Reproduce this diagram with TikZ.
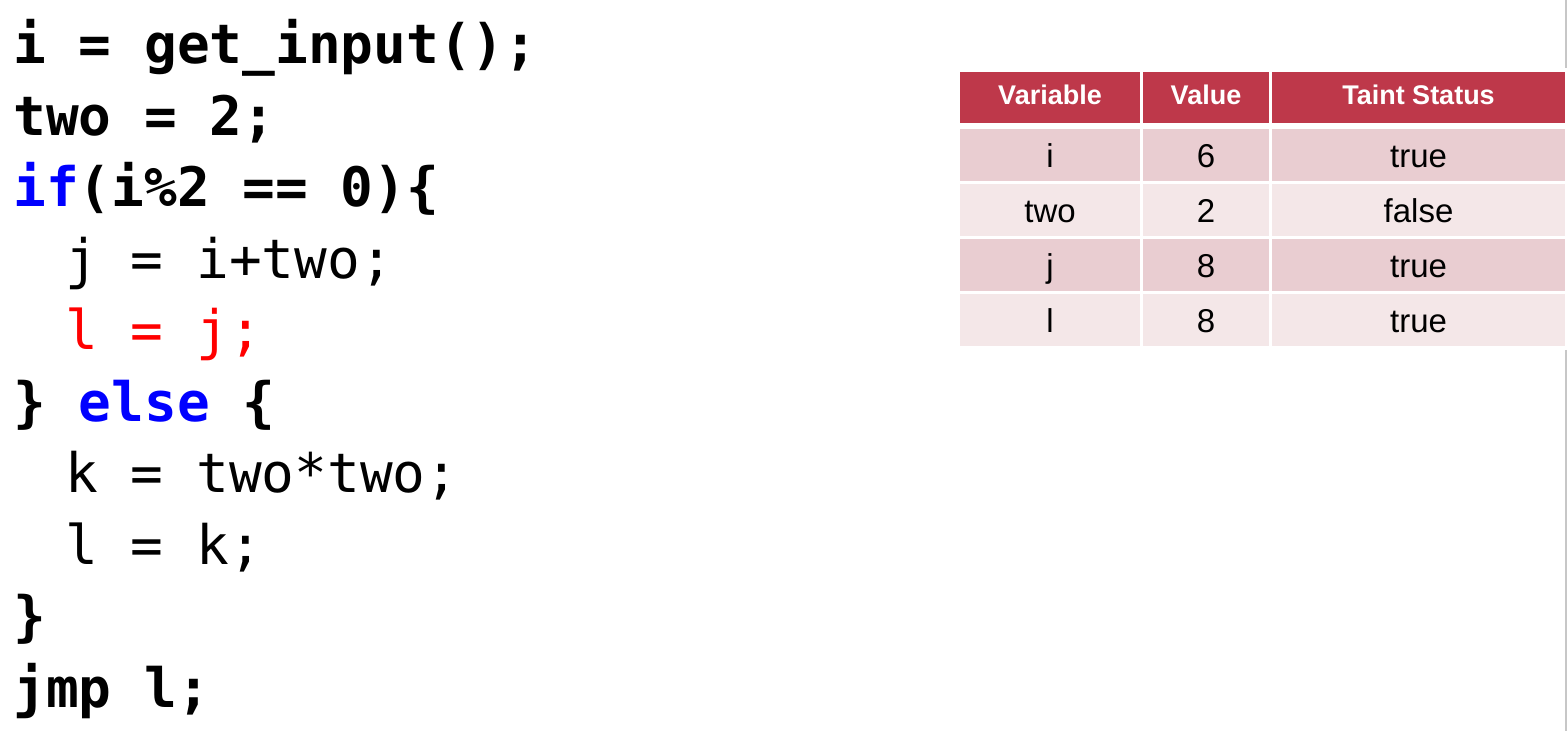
\documentclass[tikz,border=0pt]{standalone}
\usepackage{fontspec}
\setmainfont{Liberation Sans}
\setmonofont{DejaVu Sans Mono}
\usepackage{xcolor}
\usepackage{tikz}
\usetikzlibrary{positioning}

\definecolor{headred}{RGB}{190,56,74}
\definecolor{rowdark}{RGB}{233,205,209}
\definecolor{rowlight}{RGB}{244,231,232}
\definecolor{kwblue}{RGB}{0,0,255}
\definecolor{hlred}{RGB}{255,0,0}

\begin{document}
\begin{tikzpicture}[x=0.5pt,y=-0.5pt,
  code/.style={anchor=base west, inner sep=0pt, font=\fontsize{27.2pt}{32pt}\selectfont\ttfamily},
  codeb/.style={code, font=\fontsize{27.2pt}{32pt}\selectfont\ttfamily\bfseries},
  cell/.style={inner sep=0pt, minimum height=26pt, text height=11.8pt, text depth=0pt,
    font=\fontsize{16.5pt}{19pt}\selectfont},
  head/.style={cell, fill=headred, text=white, minimum height=25.5pt,
    text height=9.7pt, text depth=2.9pt, font=\fontsize{13.5pt}{16pt}\selectfont\bfseries}]
\useasboundingbox (0,0) rectangle (1568,731);
% slide edge
\draw[black!22, line width=0.75pt] (1566,0) -- (1566,68);
\draw[black!22, line width=0.75pt] (1566,350) -- (1566,731);
% code
\node[codeb] (ln1) at (13,64) {i = get\_input();};
\node[codeb] (ln2) at (13,135.4) {two = 2;};
\node[codeb] (ln3) at (13,206.9) {\textcolor{kwblue}{if}(i\%2 == 0)\{};
\node[code] (ln4) at (65,278.3) {j = i+two;};
\node[code, text=hlred] (ln5) at (65,349.8) {l = j;};
\node[codeb] (ln6) at (13,421.2) {\} \textcolor{kwblue}{else} \{};
\node[code] (ln7) at (65,492.6) {k = two*two;};
\node[code] (ln8) at (65,564.1) {l = k;};
\node[codeb] (ln9) at (13,635.5) {\}};
\node[codeb] (ln10) at (13,707) {jmp l;};
% table
\node[head, minimum width=90pt] (hvar) at (1050,97.5) {Variable};
\node[head, minimum width=63pt] (hval) at (1206,97.5) {Value};
\node[head, minimum width=146.5pt] (htaint) at (1418.5,97.5) {Taint Status};
\foreach \v/\n/\t/\y/\c in {i/6/true/155.5/rowdark, two/2/false/210.5/rowlight,
    j/8/true/265.5/rowdark, l/8/true/320.5/rowlight}{
  \node[cell, fill=\c, minimum width=90pt] (var-\v) at (1050,\y) {\v};
  \node[cell, fill=\c, minimum width=63pt] (val-\v) at (1206,\y) {\n};
  \node[cell, fill=\c, minimum width=146.5pt] (taint-\v) at (1418.5,\y) {\t};
}
\end{tikzpicture}
\end{document}
